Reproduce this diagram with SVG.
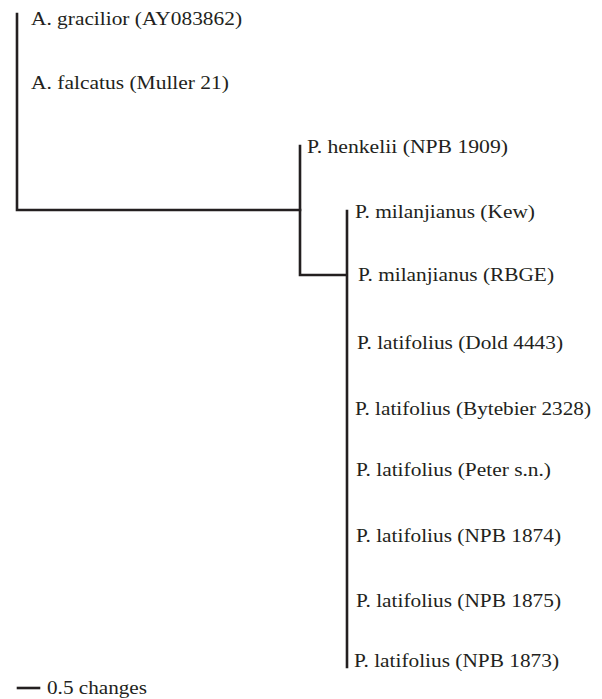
<svg xmlns="http://www.w3.org/2000/svg" width="602" height="699" viewBox="0 0 602 699">
<style>
text{font-family:'Liberation Serif','DejaVu Serif',serif;font-size:19px;fill:#231f20}
.br{stroke:#231f20;stroke-width:2.6;fill:none;stroke-linecap:square}
</style>
<rect width="602" height="699" fill="#ffffff"/>
<g id="connectors">
<path class="br" d="M17,14 V210 H300"/>
<path class="br" d="M300,146 V275 H346"/>
<path class="br" d="M347,211 V667"/>
</g>
<g id="t1"><text x="31" y="25" textLength="211" lengthAdjust="spacingAndGlyphs">A. gracilior (AY083862)</text></g>
<g id="t2"><text x="31" y="88.5" textLength="198" lengthAdjust="spacingAndGlyphs">A. falcatus (Muller 21)</text></g>
<g id="t3"><text x="307" y="153" textLength="201" lengthAdjust="spacingAndGlyphs">P. henkelii (NPB 1909)</text></g>
<g id="t4"><text x="355" y="218" textLength="180" lengthAdjust="spacingAndGlyphs">P. milanjianus (Kew)</text></g>
<g id="t5"><text x="358" y="281" textLength="196" lengthAdjust="spacingAndGlyphs">P. milanjianus (RBGE)</text></g>
<g id="t6"><text x="357" y="349" textLength="206" lengthAdjust="spacingAndGlyphs">P. latifolius (Dold 4443)</text></g>
<g id="t7"><text x="355" y="415" textLength="236" lengthAdjust="spacingAndGlyphs">P. latifolius (Bytebier 2328)</text></g>
<g id="t8"><text x="356" y="476" textLength="195" lengthAdjust="spacingAndGlyphs">P. latifolius (Peter s.n.)</text></g>
<g id="t9"><text x="356" y="542" textLength="205" lengthAdjust="spacingAndGlyphs">P. latifolius (NPB 1874)</text></g>
<g id="t10"><text x="356" y="607" textLength="205" lengthAdjust="spacingAndGlyphs">P. latifolius (NPB 1875)</text></g>
<g id="t11"><text x="354" y="667" textLength="205" lengthAdjust="spacingAndGlyphs">P. latifolius (NPB 1873)</text></g>
<g id="scale">
<path class="br" d="M18,688 H39" stroke-linecap="butt"/>
<text x="47" y="694" textLength="100" lengthAdjust="spacingAndGlyphs">0.5 changes</text>
</g>
</svg>
